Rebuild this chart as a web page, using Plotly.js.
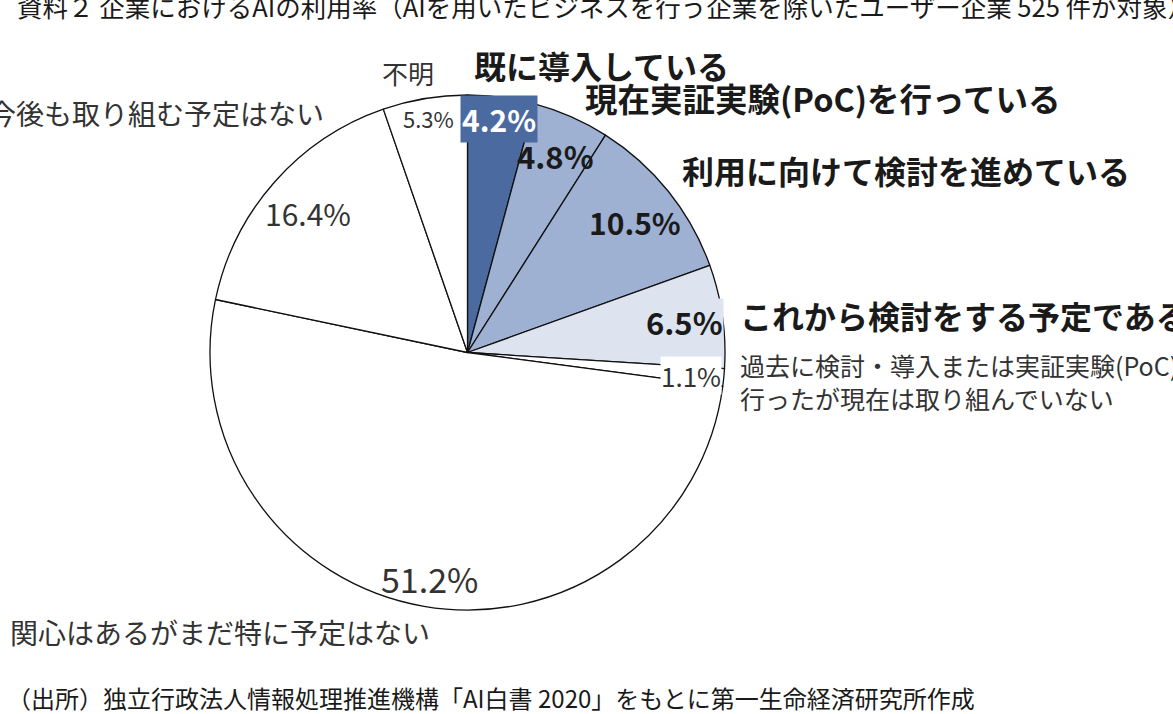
<!DOCTYPE html>
<html>
<head>
<meta charset="utf-8">
<script src="https://cdn.plot.ly/plotly-3.0.1.min.js"></script>
<style>html,body{margin:0;padding:0;background:#fff;}#chart{width:1173px;height:714px;}</style>
</head>
<body>
<div id="chart"></div>
<script>
const categories = [
  "既に導入している",
  "現在実証実験(PoC)を行っている",
  "利用に向けて検討を進めている",
  "これから検討をする予定である",
  "過去に検討・導入または実証実験(PoC)を<br>行ったが現在は取り組んでいない",
  "関心はあるがまだ特に予定はない",
  "今後も取り組む予定はない",
  "不明"
];
const values = [4.2, 4.8, 10.5, 6.5, 1.1, 51.2, 16.4, 5.3];
const sliceColors = ["#4a6aa0", "#9eb1d3", "#9eb1d3", "#dde3ef", "#ffffff", "#ffffff", "#ffffff", "#ffffff"];
const titleText = "資料２ 企業におけるAIの利用率（AIを用いたビジネスを行う企業を除いたユーザー企業 525 件が対象）";
const sourceText = "（出所）独立行政法人情報処理推進機構「AI白書 2020」をもとに第一生命経済研究所作成";

const W = 1173, H = 714;
const FONT = "Noto Sans CJK JP, Noto Sans, sans-serif";
const fx = v => v / W;
const fy = v => 1 - v / H;
const pct = i => values[i].toFixed(1) + "%";

const cx = 467.5, cy = 352.5, r = 257.5;

const trace = {
  type: "pie",
  labels: categories,
  values: values,
  sort: false,
  direction: "clockwise",
  rotation: 0,
  textinfo: "none",
  hoverinfo: "label+percent",
  marker: { colors: sliceColors, line: { color: "#111111", width: 1.3 } },
  domain: { x: [fx(cx - r), fx(cx + r)], y: [fy(cy + r), fy(cy - r)] },
  showlegend: false
};

function ann(text, x, y, size, opts) {
  return Object.assign({
    text: text, xref: "paper", yref: "paper", x: fx(x), y: fy(y),
    xanchor: "center", yanchor: "middle", showarrow: false,
    font: { family: FONT, size: size, color: "#1a1a1a" }
  }, opts || {});
}

const B = s => "<b>" + s + "</b>";

const annotations = [
  ann(titleText, 15, 6, 25.5, { xanchor: "left" }),
  ann(sourceText, 5, 697, 24, { xanchor: "left" }),
  // category labels
  ann(B(categories[0]), 472, 65, 32, { xanchor: "left" }),
  ann(B(categories[1]), 583, 98, 32.5, { xanchor: "left" }),
  ann(B(categories[2]), 680, 170, 32, { xanchor: "left" }),
  ann(B(categories[3]), 738, 315, 32, { xanchor: "left" }),
  ann(categories[4], 738, 381, 25, { xanchor: "left", align: "left", font: { family: FONT, size: 25, color: "#333333" } }),
  ann(categories[5], 8, 632, 28, { xanchor: "left", font: { family: FONT, size: 28, color: "#333333" } }),
  ann(categories[6], 326, 113, 28, { xanchor: "right", font: { family: FONT, size: 28, color: "#333333" } }),
  ann(categories[7], 408, 73, 26, { font: { family: FONT, size: 26, color: "#333333" } }),
  // value labels
  ann(B(pct(0)), 499, 119, 30, { bgcolor: "#4a6aa0", borderpad: 1, font: { family: FONT, size: 30, color: "#ffffff" } }),
  ann(B(pct(1)), 555, 155, 31),
  ann(B(pct(2)), 635, 222, 30),
  ann(B(pct(3)), 684, 322, 31, { bgcolor: "#dde3ef", borderpad: 0 }),
  ann(pct(4), 691, 375, 26, { bgcolor: "#ffffff", borderpad: 0, font: { family: FONT, size: 26, color: "#333333" } }),
  ann(pct(5), 429, 578, 34, { font: { family: FONT, size: 34, color: "#333333" } }),
  ann(pct(6), 308, 213, 30, { font: { family: FONT, size: 30, color: "#333333" } }),
  ann(pct(7), 428, 118, 22, { font: { family: FONT, size: 22, color: "#333333" } })
];

const layout = {
  width: W, height: H,
  margin: { l: 0, r: 0, t: 0, b: 0 },
  paper_bgcolor: "#ffffff",
  showlegend: false,
  annotations: annotations,
  font: { family: FONT }
};

Plotly.newPlot("chart", [trace], layout, { displayModeBar: false, staticPlot: true });
</script>
</body>
</html>
